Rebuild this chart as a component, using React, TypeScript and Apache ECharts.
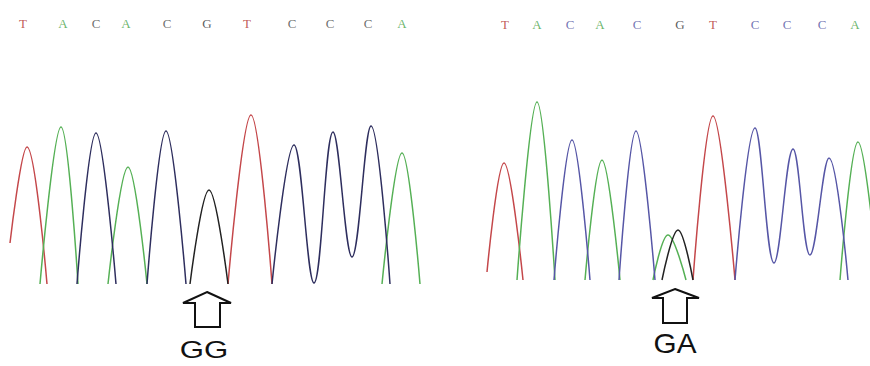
import React, { useEffect, useRef } from "react";
import * as echarts from "echarts";

// Called bases (same for both traces)
const bases = ["T", "A", "C", "A", "C", "G", "T", "C", "C", "C", "A"];
const leftLetterX = [23, 63, 96, 126, 167, 207, 247, 292, 330, 368, 402];
const rightLetterX = [505, 537, 570, 600, 637, 680, 713, 755, 787, 822, 855];

// Trace segments: [scan position, signal]
const leftT = [
  [[10, 41], [27, 137], [47, 0]],
  [[228, 0], [251, 169], [272, 0]],
];
const leftA = [
  [[40, 0], [61, 157], [78, 0]],
  [[108, 0], [128, 117], [147, 0]],
  [[382, 0], [402, 131], [420, 0]],
];
const leftC = [
  [[77, 0], [96, 151], [116, 0]],
  [[147, 0], [166, 153], [186, 0]],
  [[272, 0], [294, 139], [314, 1], [333, 152], [352, 27], [371, 158], [390, 0]],
];
const leftG = [[[190, 0], [209, 94], [228, 0]]];

const rightT = [
  [[487, 8], [504, 117], [523, 0]],
  [[693, 0], [713, 164], [735, 0]],
];
const rightA = [
  [[517, 0], [537, 178], [555, 0]],
  [[585, 0], [602, 120], [620, 0]],
  [[653, 0], [668, 45], [686, 0]],
  [[840, 0], [858, 138], [878, 0]],
];
const rightC = [
  [[554, 0], [572, 140], [590, 0]],
  [[619, 0], [636, 149], [655, 0]],
  [[735, 0], [755, 152], [774, 17], [793, 131], [810, 25], [829, 122], [848, 0]],
];
const rightG = [[[662, 0], [678, 50], [693, 0]]];

const genotypes = ["GG", "GA"];

const COL = {
  T: "#c4474a",
  A: "#55b055",
  CL: "#2e2e5e",
  CR: "#5656a6",
  G: "#222222",
};
const LETTER_COL_L: Record<string, string> = { T: "#b03028", A: "#44a244", C: "#4a4a4a", G: "#333333" };
const LETTER_COL_R: Record<string, string> = { T: "#b03028", A: "#44a244", C: "#5252a2", G: "#333333" };

export default function App() {
  const ref = useRef<HTMLDivElement>(null);
  useEffect(() => {
    document.body.style.margin = "0";
    const chart = echarts.init(ref.current!, undefined, { renderer: "svg" });
    const series: any[] = [];
    const addTrace = (segs: number[][][], color: string, gi: number) => {
      segs.forEach((seg) => {
        series.push({
          type: "line",
          xAxisIndex: gi,
          yAxisIndex: gi,
          data: seg,
          smooth: 0.38,
          symbol: "none",
          clip: true,
          silent: true,
          lineStyle: { color, width: 1.5 },
        });
      });
    };
    addTrace(leftT, COL.T, 0);
    addTrace(leftA, COL.A, 0);
    addTrace(leftC, COL.CL, 0);
    addTrace(leftG, COL.G, 0);
    addTrace(rightT, COL.T, 1);
    addTrace(rightA, COL.A, 1);
    addTrace(rightC, COL.CR, 1);
    addTrace(rightG, COL.G, 1);

    const letterSeries = (xs: number[], yv: number, gi: number, cols: Record<string, string>) => ({
      type: "scatter",
      xAxisIndex: gi,
      yAxisIndex: gi,
      clip: false,
      silent: true,
      symbolSize: 1,
      itemStyle: { color: "transparent" },
      data: xs.map((x, i) => ({
        name: bases[i],
        value: [x, yv],
        label: { color: cols[bases[i]] },
      })),
      label: {
        show: true,
        position: "inside",
        formatter: (p: any) => p.name,
        fontFamily: "Liberation Serif, serif",
        fontSize: 13,
      },
    });
    series.push(letterSeries(leftLetterX, 284 - 23, 0, LETTER_COL_L));
    series.push(letterSeries(rightLetterX, 280 - 24, 1, LETTER_COL_R));

    chart.setOption({
      animation: false,
      backgroundColor: "#ffffff",
      grid: [
        { left: 10, top: 60, width: 410, height: 224 },
        { left: 487, top: 60, width: 383, height: 220 },
      ],
      xAxis: [
        { type: "value", gridIndex: 0, min: 10, max: 420, show: false },
        { type: "value", gridIndex: 1, min: 487, max: 870, show: false },
      ],
      yAxis: [
        { type: "value", gridIndex: 0, min: 0, max: 224, show: false },
        { type: "value", gridIndex: 1, min: 0, max: 220, show: false },
      ],
      series,
      graphic: [
        {
          type: "polygon",
          shape: {
            points: [[207, 292], [231, 303], [220, 303], [220, 327], [195, 327], [195, 303], [183, 303]],
          },
          style: { fill: "#fff", stroke: "#111", lineWidth: 2 },
        },
        {
          type: "polygon",
          shape: {
            points: [[675, 289], [699, 298], [687, 298], [687, 323], [663, 323], [663, 298], [652, 298]],
          },
          style: { fill: "#fff", stroke: "#111", lineWidth: 2 },
        },
        {
          type: "text",
          x: 204,
          y: 350,
          scaleX: 1.3,
          style: {
            text: genotypes[0],
            fontFamily: "Liberation Sans, Arial, sans-serif",
            fontSize: 24,
            fill: "#111",
            align: "center",
            verticalAlign: "middle",
          },
        },
        {
          type: "text",
          x: 675,
          y: 343,
          scaleX: 1.1,
          style: {
            text: genotypes[1],
            fontFamily: "Liberation Sans, Arial, sans-serif",
            fontSize: 27,
            fill: "#111",
            align: "center",
            verticalAlign: "middle",
          },
        },
      ],
    });
    return () => chart.dispose();
  }, []);
  return <div ref={ref} style={{ width: 870, height: 366 }} />;
}
